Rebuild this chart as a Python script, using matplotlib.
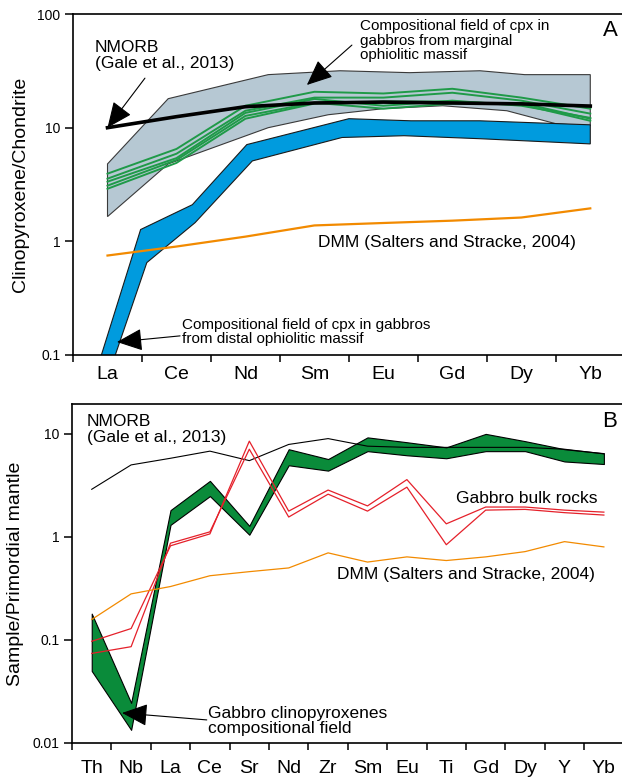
import numpy as np
import matplotlib.pyplot as plt
from matplotlib.ticker import FixedLocator, FixedFormatter, NullLocator

plt.rcParams['font.family'] = ['Liberation Sans', 'DejaVu Sans']

# ---- panel A : chondrite normalised REE ----
ree_a = ['La', 'Ce', 'Nd', 'Sm', 'Eu', 'Gd', 'Dy', 'Yb']
nmorb_a = [10.0, 12.5, 15.3, 16.5, 16.8, 16.5, 16.2, 15.5]
dmm_a = [0.75, 0.90, 1.10, 1.38, 1.45, 1.52, 1.62, 1.95]

# cpx from marginal massif (green lines)
cpx_a1 = [3.94, 6.5, 15.6, 20.7, 20.0, 22.0, 18.4, 14.7]
cpx_a2 = [3.56, 5.9, 14.1, 18.4, 18.4, 20.3, 17.3, 13.3]
cpx_a3 = [3.35, 5.4, 13.5, 17.9, 15.6, 17.3, 15.6, 12.2]
cpx_a4 = [3.09, 5.2, 12.7, 16.6, 14.7, 16.3, 16.5, 12.0]
cpx_a5 = [2.90, 4.9, 12.0, 16.3, 17.0, 17.0, 16.0, 11.5]

# field of marginal massif (grey), x in element units
marg_up_x = [0, 0.88, 2.33, 3.37, 4.38, 5.40, 6.05, 7.0]
marg_up = [4.8, 18.0, 29.3, 31.7, 30.5, 31.7, 29.3, 29.3]
marg_lo_x = [0, 0.88, 2.33, 3.2, 4.0, 4.86, 5.79, 6.51, 7.0]
marg_lo = [1.65, 4.8, 10.0, 13.0, 14.7, 15.6, 14.1, 10.8, 10.4]

# field of distal massif (blue)
dist_up_x = [-0.15, 0.48, 1.23, 2.02, 3.5, 4.4, 5.4, 7.0]
dist_up = [0.076, 1.27, 2.1, 7.1, 12.0, 11.5, 11.5, 10.6]
dist_lo_x = [0.0, 0.57, 1.27, 2.1, 3.4, 4.3, 5.4, 7.0]
dist_lo = [0.063, 0.65, 1.46, 5.1, 8.2, 8.5, 8.0, 7.2]

# ---- panel B : primordial mantle normalised ----
elem_b = ['Th', 'Nb', 'La', 'Ce', 'Sr', 'Nd', 'Zr', 'Sm', 'Eu', 'Ti', 'Gd', 'Dy', 'Y', 'Yb']
nmorb_b = [2.9, 5.0, 5.8, 6.8, 5.5, 7.9, 9.0, 7.6, 7.4, 7.4, 7.4, 7.4, 7.1, 6.4]
dmm_b = [0.158, 0.28, 0.33, 0.42, 0.46, 0.50, 0.70, 0.57, 0.64, 0.59, 0.64, 0.72, 0.90, 0.80]
cpx_b_up = [0.18, 0.0245, 1.82, 3.5, 1.28, 7.1, 5.7, 9.25, 8.3, 7.4, 10.0, 8.5, 7.1, 6.5]
cpx_b_lo = [0.05, 0.0134, 1.31, 2.49, 1.05, 4.96, 4.4, 6.8, 6.2, 5.8, 6.8, 6.8, 5.4, 5.1]
bulk_1 = [0.097, 0.129, 0.82, 1.07, 8.5, 1.78, 2.85, 2.0, 3.6, 1.34, 1.95, 1.95, 1.82, 1.74]
bulk_2 = [0.074, 0.086, 0.87, 1.12, 7.1, 1.56, 2.6, 1.78, 3.04, 0.84, 1.82, 1.85, 1.72, 1.63]

GREY = '#b6c8d3'
BLUE = '#009bde'
GREEN = '#0a8b3a'
GREEN_L = '#1f9a48'
ORANGE = '#f28a00'
RED = '#e5202a'

fig = plt.figure(figsize=(6.22, 7.81), dpi=100)
axA = fig.add_axes([0.1174, 0.5455, 0.8826, 0.4365])
axB = fig.add_axes([0.1158, 0.0487, 0.8842, 0.434])


def style_axis(ax, labels, yticks, yticklabels, ylim, xpad):
    n = len(labels)
    ax.set_yscale('log')
    ax.set_ylim(*ylim)
    ax.set_xlim(-0.5, -0.5 + (n - 0.5) * 0 + n - 0.04)
    ax.xaxis.set_major_locator(FixedLocator(np.arange(n)))
    ax.xaxis.set_major_formatter(FixedFormatter(labels))
    ax.xaxis.set_minor_locator(FixedLocator(np.arange(n) - 0.5))
    ax.tick_params(axis='x', which='major', length=0, labelsize=14, pad=xpad)
    ax.tick_params(axis='x', which='minor', length=5, width=1.1, direction='out')
    ax.yaxis.set_major_locator(FixedLocator(yticks))
    ax.yaxis.set_major_formatter(FixedFormatter(yticklabels))
    ax.yaxis.set_minor_locator(NullLocator())
    ax.tick_params(axis='y', length=6, width=1.1, labelsize=10, pad=3)
    ax.spines['right'].set_visible(False)
    for s in ['left', 'top', 'bottom']:
        ax.spines[s].set_linewidth(1.2)


arrow_kw = dict(arrowstyle='-|>,head_length=0.8,head_width=0.35', color='k',
                lw=0.8, shrinkA=0, shrinkB=0, mutation_scale=20)

# ---------------- panel A ----------------
xa = np.arange(len(ree_a))
axA.fill(np.concatenate([marg_up_x, marg_lo_x[::-1]]),
         np.concatenate([marg_up, marg_lo[::-1]]),
         facecolor=GREY, edgecolor='#3a3a3a', lw=0.8, zorder=1)
axA.fill(np.concatenate([dist_up_x, dist_lo_x[::-1]]),
         np.concatenate([dist_up, dist_lo[::-1]]),
         facecolor=BLUE, edgecolor='#1a1a1a', lw=0.8, zorder=2)
for line in [cpx_a1, cpx_a2, cpx_a3, cpx_a4, cpx_a5]:
    axA.plot(xa, line, color=GREEN_L, lw=1.4, zorder=3)
axA.plot(xa, nmorb_a, color='k', lw=2.6, zorder=4)
axA.plot(xa, dmm_a, color=ORANGE, lw=1.6, zorder=4)

style_axis(axA, ree_a, [0.1, 1, 10, 100], ['0.1', '1', '10', '100'], (0.1, 100), 8)
axA.set_ylabel('Clinopyroxene/Chondrite', fontsize=14, labelpad=6)

axA.text(0.040, 0.924, 'NMORB\n(Gale et al., 2013)', transform=axA.transAxes,
         fontsize=12.5, va='top', ha='left', linespacing=1.05)
axA.annotate('', xy=(0, nmorb_a[0]), xycoords='data',
             xytext=(0.131, 0.812), textcoords='axes fraction', arrowprops=arrow_kw)
axA.text(0.523, 0.985, 'Compositional field of cpx in\ngabbros from marginal\nophiolitic massif',
         transform=axA.transAxes, fontsize=11, va='top', ha='left', linespacing=1.05)
axA.annotate('', xy=(0.426, 0.792), xycoords='axes fraction',
             xytext=(0.508, 0.909), textcoords='axes fraction', arrowprops=arrow_kw)
axA.text(0.978, 0.953, 'A', transform=axA.transAxes, fontsize=16, ha='center', va='center')
axA.text(0.446, 0.331, 'DMM (Salters and Stracke, 2004)', transform=axA.transAxes,
         fontsize=12.5, ha='left', va='center')
axA.text(0.1985, 0.067, 'Compositional field of cpx in gabbros\nfrom distal ophiolitic massif',
         transform=axA.transAxes, fontsize=11, ha='left', va='center', linespacing=1.05)
axA.annotate('', xy=(0.080, 0.038), xycoords='axes fraction',
             xytext=(0.195, 0.056), textcoords='axes fraction', arrowprops=arrow_kw)

# ---------------- panel B ----------------
xb = np.arange(len(elem_b))
axB.fill_between(xb, cpx_b_lo, cpx_b_up, facecolor=GREEN, edgecolor='k', lw=0.8, zorder=2)
axB.plot(xb, nmorb_b, color='k', lw=0.8, zorder=3)
axB.plot(xb, bulk_1, color=RED, lw=0.9, zorder=3)
axB.plot(xb, bulk_2, color=RED, lw=0.9, zorder=3)
axB.plot(xb, dmm_b, color=ORANGE, lw=0.9, zorder=3)

style_axis(axB, elem_b, [0.01, 0.1, 1, 10], ['0.01', '0.1', '1', '10'], (0.01, 19.5), 12)
axB.set_ylabel('Sample/Primordial mantle', fontsize=14, labelpad=6)

axB.text(0.027, 0.970, 'NMORB\n(Gale et al., 2013)', transform=axB.transAxes,
         fontsize=12.5, va='top', ha='left', linespacing=1.05)
axB.text(0.978, 0.948, 'B', transform=axB.transAxes, fontsize=16, ha='center', va='center')
axB.text(0.698, 0.7227, 'Gabbro bulk rocks', transform=axB.transAxes,
         fontsize=12.5, ha='left', va='center')
axB.text(0.482, 0.4956, 'DMM (Salters and Stracke, 2004)', transform=axB.transAxes,
         fontsize=12.5, ha='left', va='center')
axB.text(0.247, 0.0649, 'Gabbro clinopyroxenes\ncompositional field', transform=axB.transAxes,
         fontsize=12.5, ha='left', va='center', linespacing=1.0)
axB.annotate('', xy=(0.091, 0.0885), xycoords='axes fraction',
             xytext=(0.245, 0.068), textcoords='axes fraction', arrowprops=arrow_kw)

plt.savefig('out.png', dpi=100)
